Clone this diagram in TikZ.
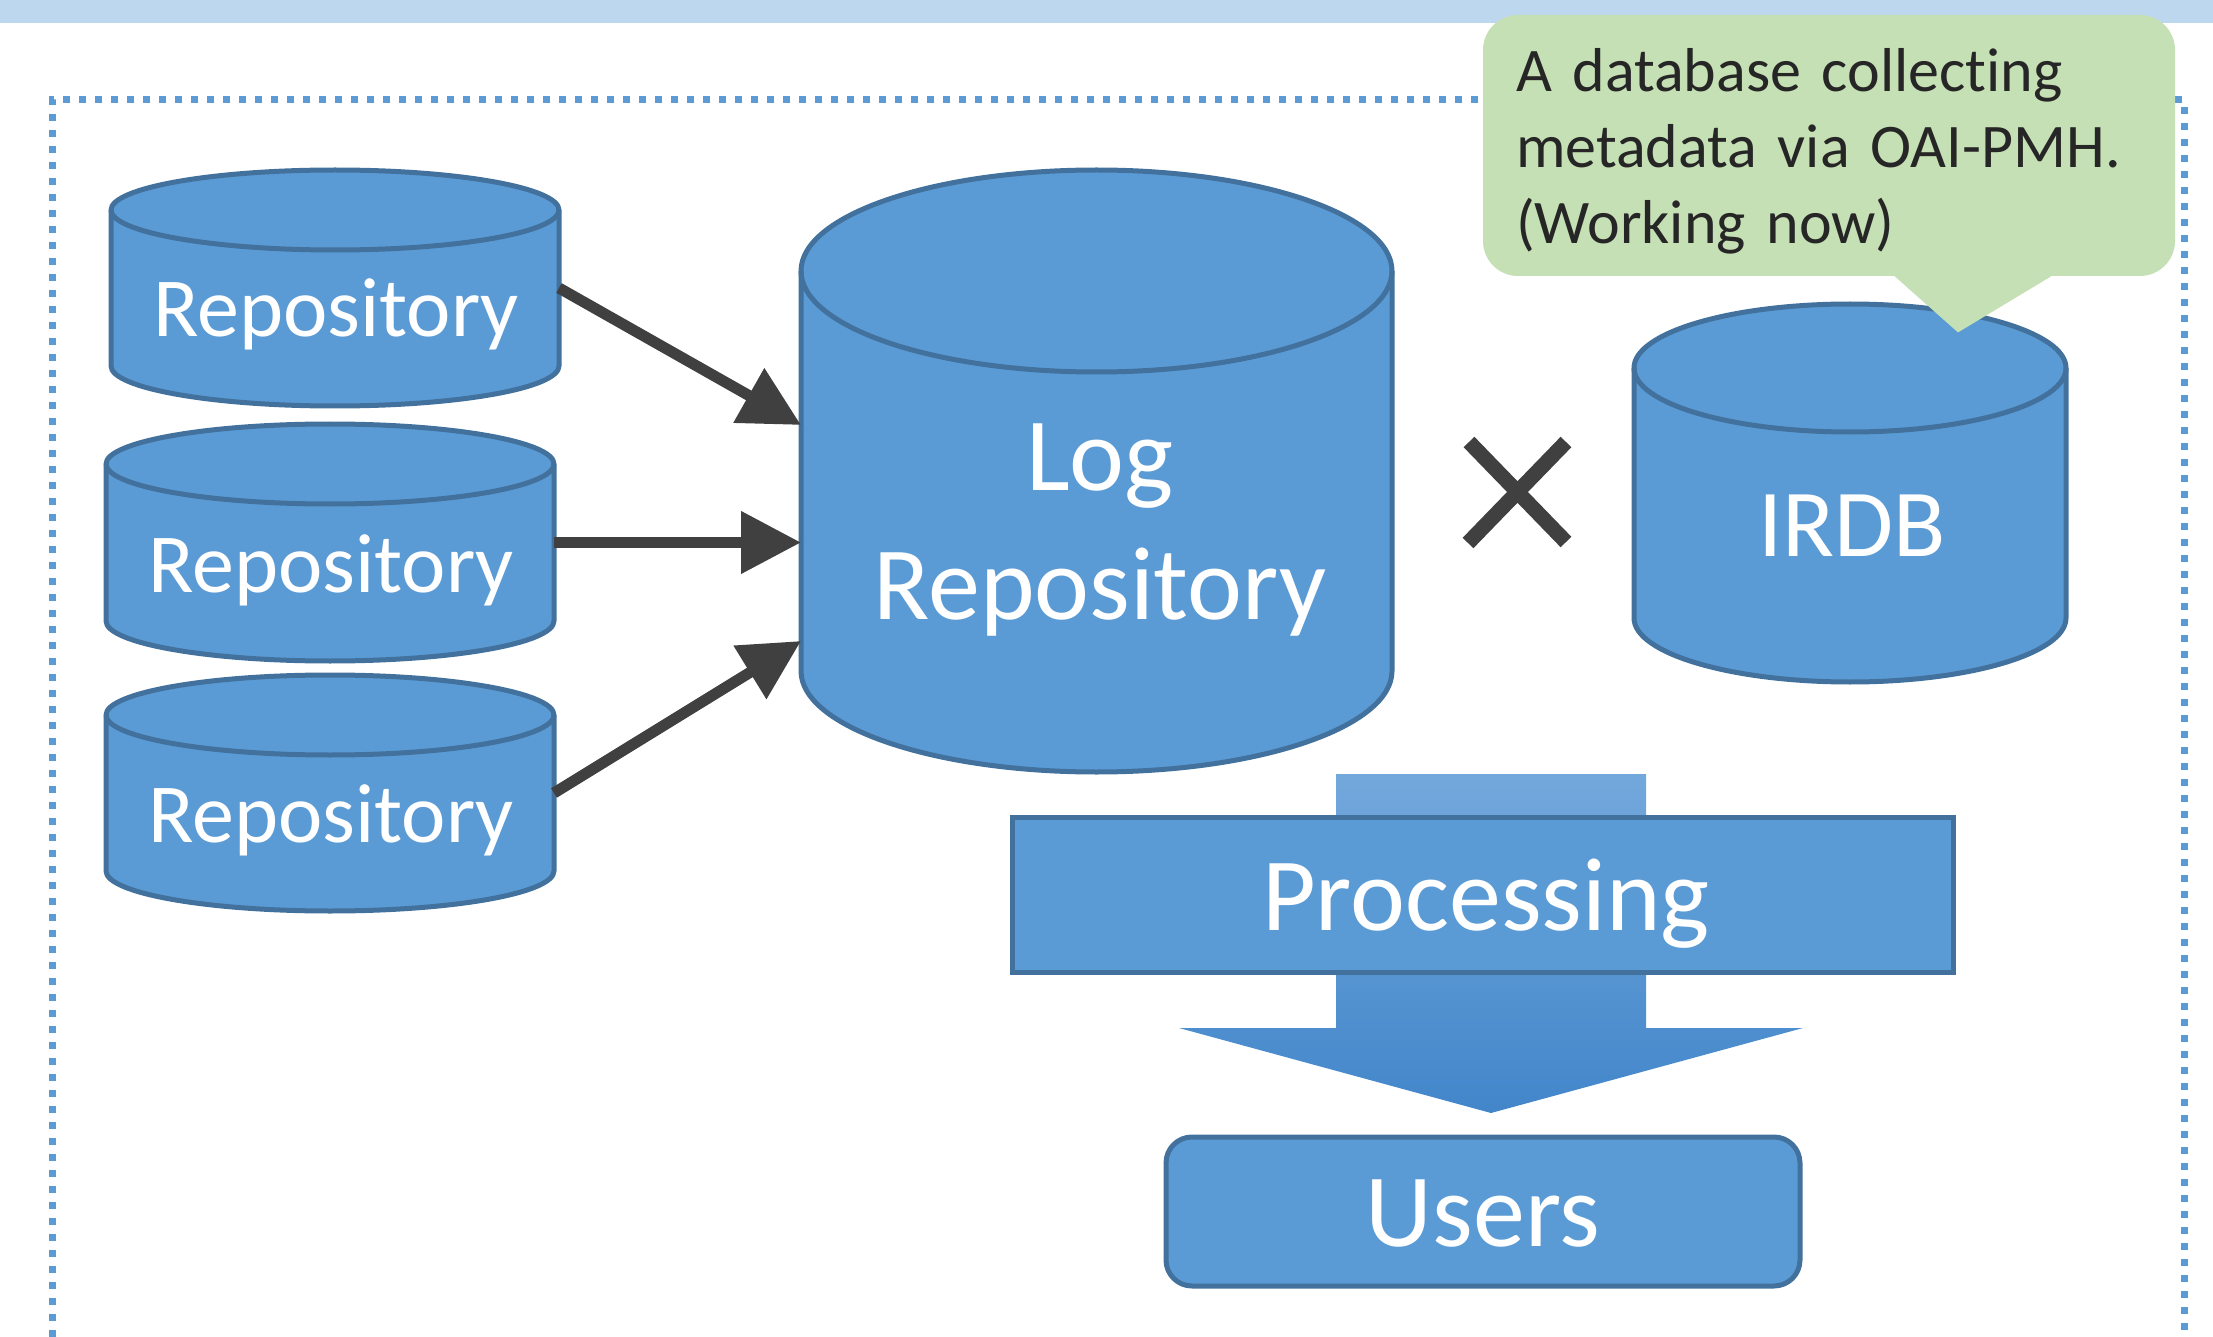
\documentclass[tikz,border=0pt]{standalone}
\usepackage{fontspec}
\setmainfont{Carlito}[RawFeature={-liga;-dlig;-clig}]
\usetikzlibrary{arrows.meta,calc}
\definecolor{cylfill}{HTML}{5B9BD5}
\definecolor{cylline}{HTML}{41719C}
\definecolor{arrowgray}{HTML}{404040}
\definecolor{calloutgreen}{HTML}{C5E0B4}
\definecolor{bandblue}{HTML}{BDD7EE}
\definecolor{textdark}{HTML}{262626}
\definecolor{flowtop}{RGB}{115,168,220}
\definecolor{flowbot}{RGB}{66,134,202}
% #1 name, #2 centre x, #3 top-ellipse centre y, #4 bottom-ellipse centre y, #5 x radius, #6 y radius (pixels, y downwards)
\newcommand\dbcyl[6]{%
  \path[cylbody] ({#2-#5},{-#3}) -- ({#2-#5},{-#4})
     arc[start angle=180,end angle=360,x radius=#5,y radius=#6]
     -- ({#2+#5},{-#3})
     arc[start angle=0,end angle=180,x radius=#5,y radius=#6] -- cycle;
  \draw[cylrim] ({#2-#5},{-#3}) arc[start angle=180,end angle=360,x radius=#5,y radius=#6];
  \node[anchorbox, minimum width={#5*1pt}, minimum height={(#4-#3)*0.5pt}] (#1) at ({#2},{-(#3+#4)/2}) {};
}
\begin{document}
\begin{tikzpicture}[x=0.5pt,y=0.5pt,
  cylbody/.style={fill=cylfill, draw=cylline, line width=2.5pt, line join=round},
  cylrim/.style={draw=cylline, line width=2.5pt},
  anchorbox/.style={inner sep=0pt, outer sep=0pt},
  wlabel/.style={text=white, inner sep=0pt, anchor=base},
  boxnode/.style={fill=cylfill, draw=cylline, line width=2.5pt, inner sep=0pt, outer sep=0pt},
  feedarrow/.style={draw=arrowgray, line width=5.5pt, -{Triangle[length=30pt,width=30pt]}},
  dotframe/.style={draw=cylfill, line width=3.5pt, dash pattern=on 3.5pt off 4.5pt},
  timesmark/.style={draw=arrowgray, line width=7.5pt}]
\useasboundingbox (0,0) rectangle (2213,-1337);
% top band
\fill[bandblue] (0,0) rectangle (2213,-23);
% dotted frame
\draw[dotframe] (52,-1337) -- (52,-100) -- (2184,-100) -- (2184,-1337);
% repositories
\dbcyl{repo1}{335}{210}{366}{224}{40}
\dbcyl{repo2}{330}{464}{621}{224}{40}
\dbcyl{repo3}{330}{715}{871}{224}{40}
\node[wlabel, font=\fontsize{42pt}{50pt}\selectfont] (repo1text) at (336,-337) {Repository};
\node[wlabel, font=\fontsize{42pt}{50pt}\selectfont] (repo2text) at (331,-592) {Repository};
\node[wlabel, font=\fontsize{42pt}{50pt}\selectfont] (repo3text) at (331,-842) {Repository};
% log repository
\dbcyl{log}{1096.5}{271}{671}{295.5}{101}
\node[wlabel, font=\fontsize{52pt}{64pt}\selectfont] (logtext1) at (1100,-490) {Log};
\node[wlabel, font=\fontsize{52pt}{64pt}\selectfont] (logtext2) at (1100,-619) {Repository};
% arrows into log repository
\draw[feedarrow] (repo1.east) -- ([yshift=23pt]log.west);
\draw[feedarrow] (repo2.east) -- (log.west |- repo2.east);
\draw[feedarrow] (repo3.east) -- ([yshift=-85pt]log.west);
% times sign
\draw[timesmark] (1469,-442) -- (1566,-542);
\draw[timesmark] (1566,-442) -- (1468,-543);
% IRDB
\dbcyl{irdb}{1850}{368}{618}{216}{64}
\node[wlabel, font=\fontsize{48pt}{58pt}\selectfont] (irdbtext) at (1852,-556) {IRDB};
% block arrow behind processing
\path[top color=flowtop, bottom color=flowbot] (1336,-774) -- (1646,-774) -- (1646,-1028) -- (1803,-1028)
   -- (1491,-1113) -- (1179,-1028) -- (1336,-1028) -- cycle;
% processing
\node[boxnode, minimum width=470.5pt, minimum height=77.5pt] (proc) at (1482.5,-894.5) {};
\node[wlabel, font=\fontsize{52pt}{62pt}\selectfont] (proctext) at (1486,-930) {Processing};
% users
\node[boxnode, rounded corners=13pt, minimum width=317pt, minimum height=74.5pt] (users) at (1483,-1211.5) {};
\node[wlabel, font=\fontsize{52pt}{62pt}\selectfont] (userstext) at (1483,-1246) {Users};
% callout
\node[fill=calloutgreen, rounded corners=17.5pt, minimum width=346pt, minimum height=130.5pt,
      inner xsep=16.5pt, inner ysep=0pt, text width=313pt, align=left, text=textdark,
      font=\fontsize{31pt}{38pt}\selectfont] (callout) at (1829,-145.5)
      {\rule{0pt}{27pt}A database collecting\\metadata via OAI-PMH.\\(Working now)};
\fill[calloutgreen] ([xshift=29.5pt,yshift=3pt]callout.south) -- ([xshift=64.5pt,yshift=-28pt]callout.south)
   -- ([xshift=116pt,yshift=3pt]callout.south) -- cycle;
\end{tikzpicture}
\end{document}
